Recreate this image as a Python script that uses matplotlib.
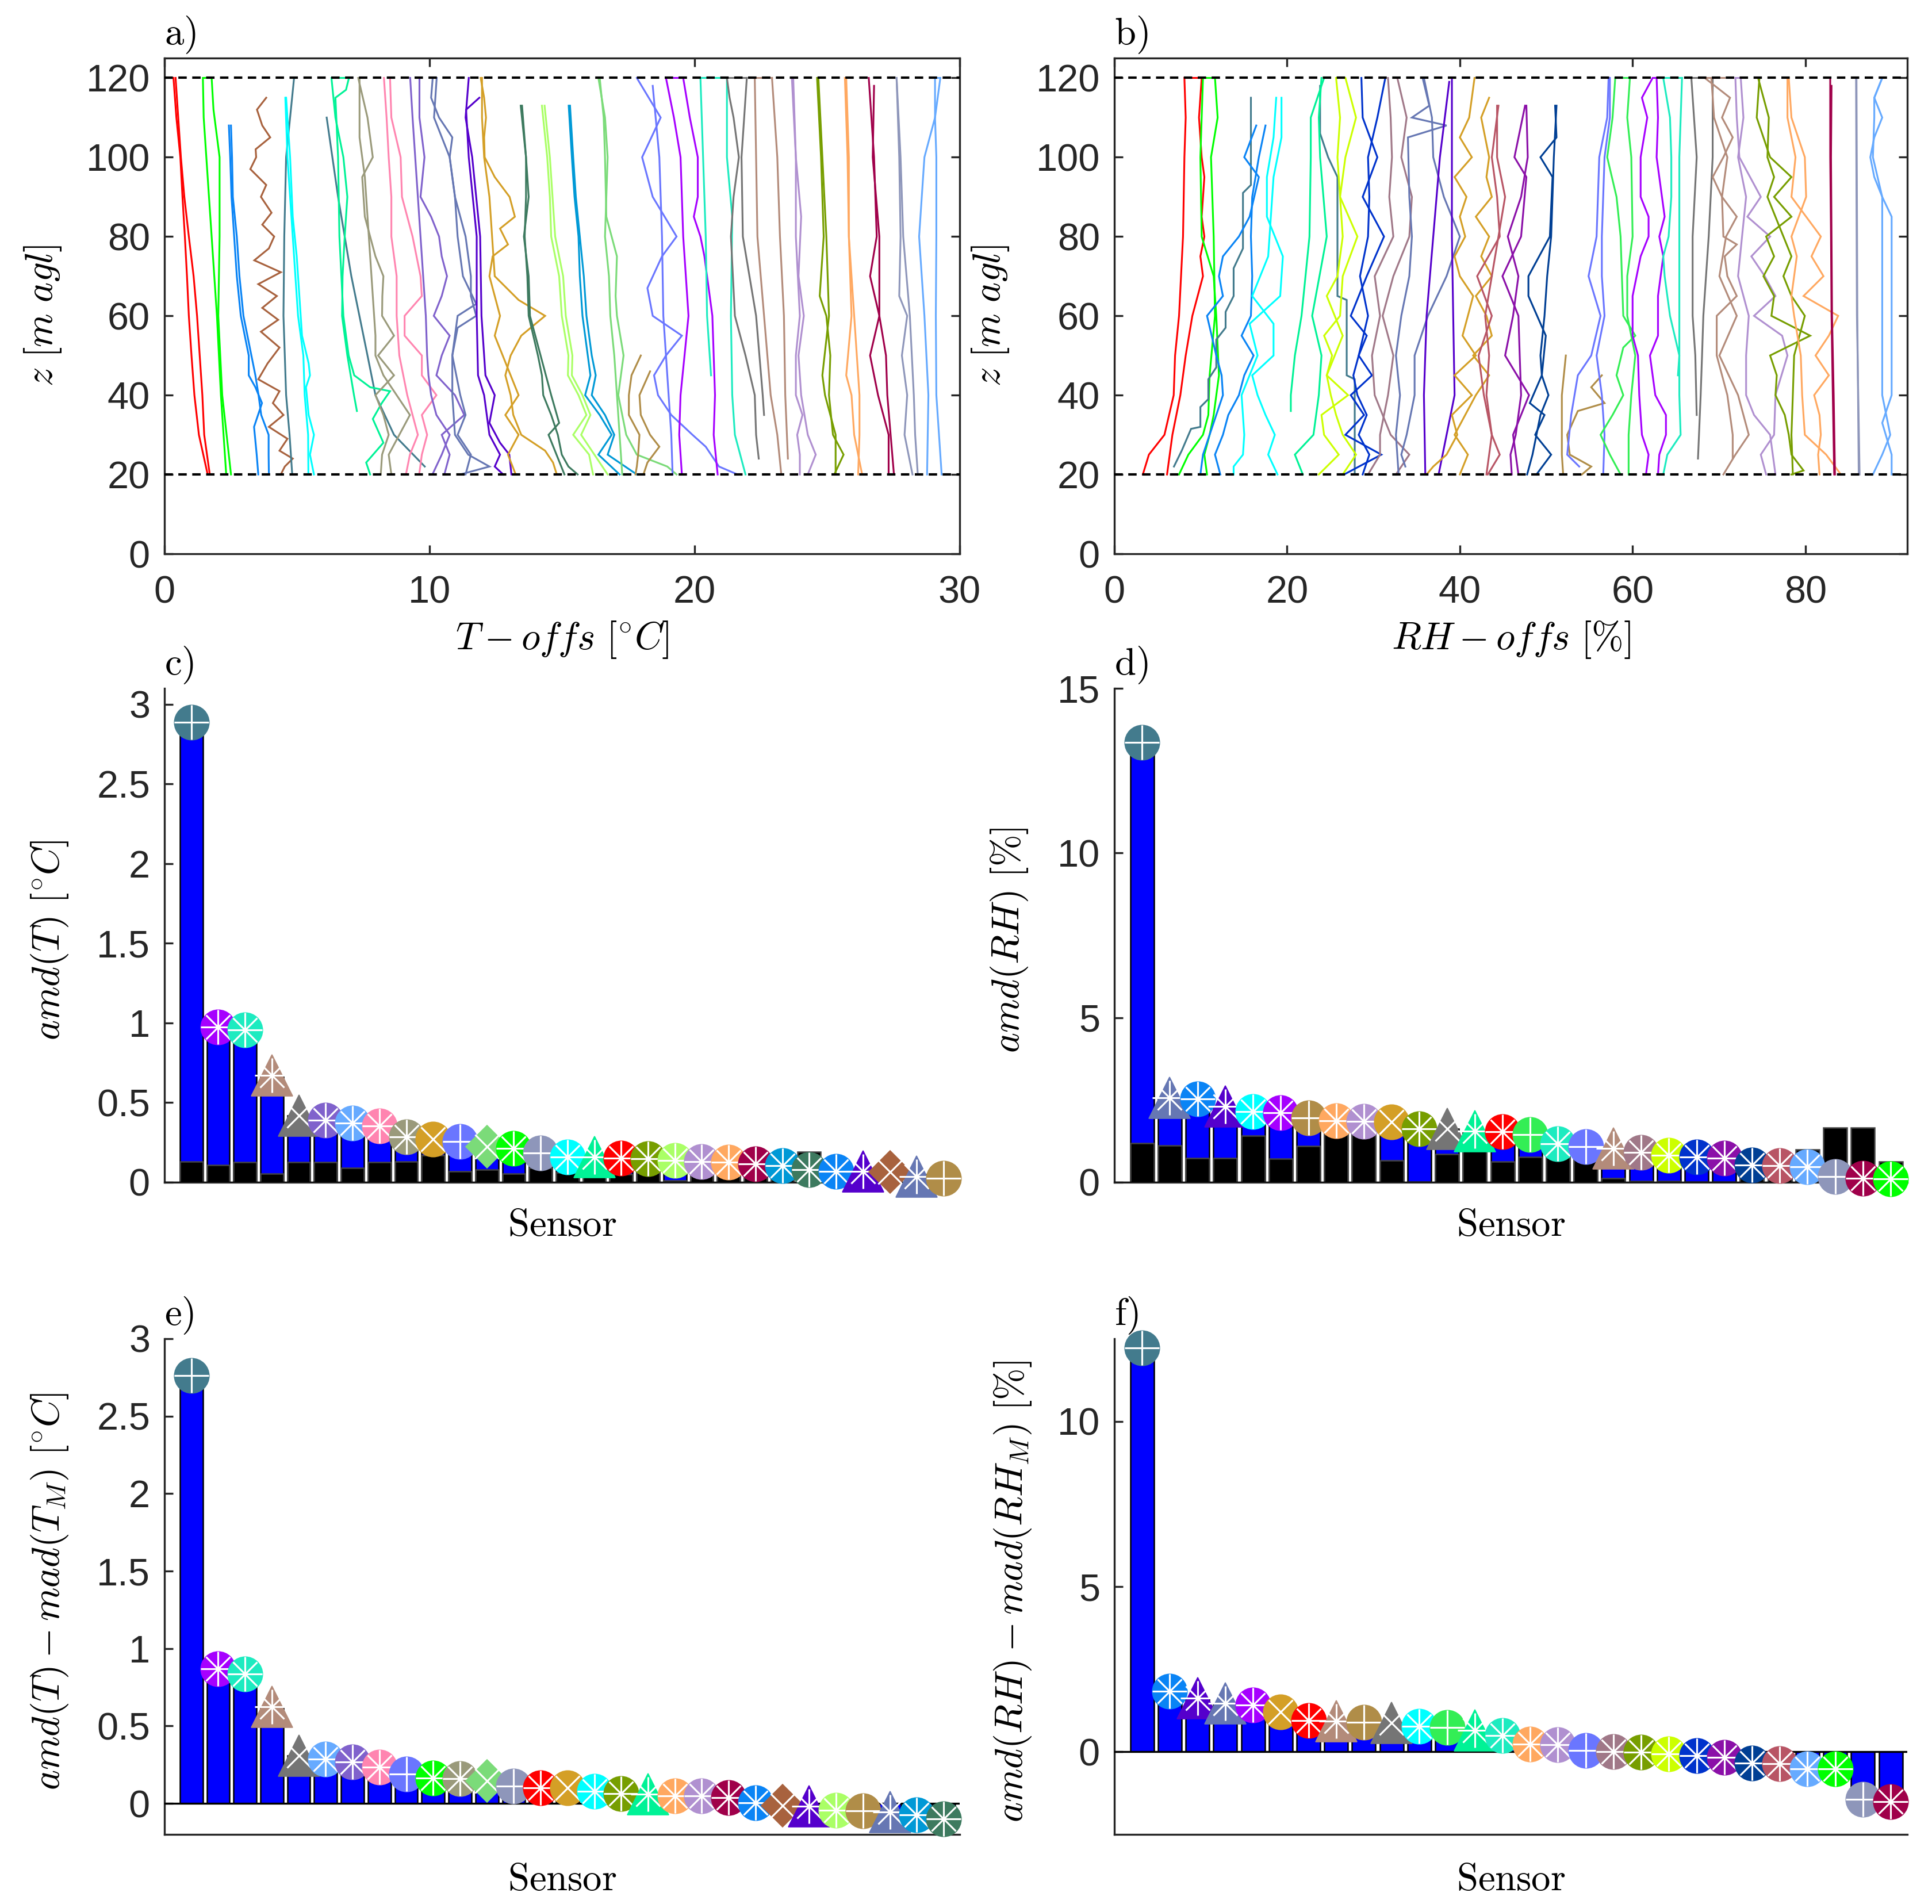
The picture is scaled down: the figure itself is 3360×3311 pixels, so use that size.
import numpy as np
import matplotlib
matplotlib.use('Agg')
import matplotlib.pyplot as plt
from matplotlib.ticker import FuncFormatter

plt.rcParams['font.family'] = ['Liberation Sans', 'DejaVu Sans']
plt.rcParams['mathtext.fontset'] = 'cm'

# ---------------- sensor styles ----------------
COL = {
    'teal': '#437B8D', 'violet': '#A600FF', 'aqua': '#1DEBC0', 'rosy': '#B38B7A',
    'gray': '#757575', 'mpurple': '#8062CC', 'lblue': '#66AAFF', 'pink': '#FF85B0',
    'grayolive': '#9A9A7B', 'goldenrod': '#D49F26', 'cornflower': '#6A76FF',
    'lgreen': '#7BDB79', 'green': '#00FF00', 'grayblue': '#8E96BA', 'cyan': '#00FFFF',
    'spring': '#00F296', 'red': '#FF0000', 'olive': '#779E00', 'lime': '#AAFF66',
    'lavender': '#B090D0', 'orange': '#FFA860', 'maroon': '#A0004A', 'deepsky': '#0099D6',
    'dkgreen': '#3D7A5F', 'dodger': '#0A84F5', 'indigo': '#5500CC', 'sienna': '#A8623E',
    'slate': '#6677B3', 'goldbrown': '#B08D48', 'green2': '#33EE55', 'mauve': '#A07888',
    'yellow': '#CCFF00', 'medblue': '#0033CC', 'dviolet': '#8B10A8', 'navy': '#003F94',
    'rose': '#B85565',
}
MK = {k: ('o', '*') for k in COL}
MK.update({'rosy': ('^', '*'), 'gray': ('^', 'x'), 'goldenrod': ('o', 'x'),
           'cornflower': ('o', '+'), 'lgreen': ('D', 'x'), 'grayblue': ('o', '+'),
           'spring': ('^', '*'), 'indigo': ('^', '*'), 'sienna': ('D', 'x'),
           'slate': ('^', '*'), 'goldbrown': ('o', '+'), 'teal': ('o', '+'),
           'green2': ('o', '+')})

# ---------------- panel c / d / e / f data ----------------
c_order = ['teal', 'violet', 'aqua', 'rosy', 'gray', 'mpurple', 'lblue', 'pink', 'grayolive',
           'goldenrod', 'cornflower', 'lgreen', 'green', 'grayblue', 'cyan', 'spring', 'red',
           'olive', 'lime', 'lavender', 'orange', 'maroon', 'deepsky', 'dkgreen', 'dodger',
           'indigo', 'sienna', 'slate', 'goldbrown']
c_amd = [2.888, 0.974, 0.958, 0.673, 0.42, 0.388, 0.373, 0.355, 0.285, 0.272, 0.257, 0.224,
         0.213, 0.184, 0.158, 0.157, 0.151, 0.147, 0.136, 0.129, 0.125, 0.114, 0.103, 0.081,
         0.07, 0.069, 0.064, 0.037, 0.026]
c_black = [0.129, 0.107, 0.127, 0.053, 0.127, 0.127, 0.092, 0.127, 0.13, 0.17, 0.07, 0.08,
           0.053, 0.09, 0.06, 0.075, 0.05, 0.06, 0.01, 0.05, 0.05, 0.06, 0.06, 0.19, 0.05,
           0.05, 0.05, 0.05, 0.0]

d_order = ['teal', 'slate', 'dodger', 'indigo', 'cyan', 'violet', 'goldbrown', 'orange',
           'lavender', 'goldenrod', 'olive', 'gray', 'spring', 'red', 'green2', 'aqua',
           'cornflower', 'rosy', 'mauve', 'yellow', 'medblue', 'dviolet', 'navy', 'rose',
           'lblue', 'grayblue', 'maroon', 'green']
d_amd = [13.36, 2.57, 2.53, 2.30, 2.14, 2.11, 1.96, 1.87, 1.85, 1.84, 1.63, 1.62, 1.56, 1.54,
         1.45, 1.17, 1.08, 1.03, 0.90, 0.82, 0.76, 0.73, 0.53, 0.50, 0.47, 0.18, 0.13, 0.10]
d_black = [1.19, 1.11, 0.73, 0.73, 1.42, 0.71, 1.10, 1.5, 1.5, 0.66, 0.02, 0.85, 0.98, 0.63,
           0.76, 1.1, 1.0, 0.13, 0.03, 0.03, 0.02, 0.02, 0.15, 0.15, 1.0, 1.66, 1.66, 0.63]

e_order = ['teal', 'violet', 'aqua', 'rosy', 'gray', 'lblue', 'mpurple', 'pink', 'cornflower',
           'green', 'grayolive', 'lgreen', 'grayblue', 'red', 'goldenrod', 'cyan', 'olive',
           'spring', 'orange', 'lavender', 'maroon', 'dodger', 'sienna', 'indigo', 'lime',
           'goldbrown', 'slate', 'deepsky', 'dkgreen']
e_val = [2.763, 0.868, 0.835, 0.625, 0.31, 0.286, 0.268, 0.235, 0.19, 0.162, 0.160, 0.147,
         0.11, 0.10, 0.099, 0.077, 0.065, 0.06, 0.05, 0.049, 0.038, 0.005, -0.014, -0.018,
         -0.045, -0.046, -0.056, -0.074, -0.10]

f_order = ['teal', 'dodger', 'indigo', 'slate', 'violet', 'goldenrod', 'red', 'rosy',
           'goldbrown', 'gray', 'cyan', 'green2', 'spring', 'aqua', 'orange', 'lavender',
           'cornflower', 'mauve', 'olive', 'yellow', 'medblue', 'dviolet', 'navy', 'rose',
           'lblue', 'green', 'grayblue', 'maroon']
f_val = [12.23, 1.84, 1.63, 1.47, 1.42, 1.21, 0.94, 0.93, 0.89, 0.88, 0.78, 0.73, 0.65, 0.49,
         0.23, 0.22, 0.04, 0.01, -0.01, -0.06, -0.12, -0.17, -0.35, -0.36, -0.51, -0.52,
         -1.44, -1.51]

# ---------------- panel a: temperature profiles (z [m], T-offs [C]) ----------------
ta_red = [[(120, 0.34), (110, 0.45), (100, 0.60), (90, 0.68), (80, 0.77), (70, 0.85), (60, 0.92), (50, 1.02), (40, 1.13), (30, 1.30), (20, 1.63)],
          [(120, 0.42), (110, 0.52), (100, 0.62), (90, 0.75), (80, 0.92), (70, 1.10), (60, 1.23), (50, 1.33), (40, 1.43), (30, 1.50), (20, 1.71)]]
ta_green = [[(120, 1.78), (120, 1.45), (110, 1.48), (100, 1.58), (80, 1.78), (60, 1.98), (40, 2.13), (20, 2.33)],
            [(120, 1.78), (112, 1.85), (100, 2.08), (80, 2.08), (60, 2.03), (40, 2.18), (20, 2.51)]]
ta_dodger = [[(108, 2.43), (100, 2.48), (90, 2.53), (80, 2.63), (70, 2.73), (60, 2.88), (50, 3.18), (45, 3.18), (42, 3.43), (38, 3.68), (32, 3.38), (25, 3.48), (20, 3.54)],
             [(108, 2.51), (100, 2.55), (90, 2.58), (80, 2.73), (70, 2.83), (60, 2.98), (50, 3.28), (45, 3.43), (40, 3.55), (35, 3.65), (30, 3.93), (25, 3.93), (20, 3.94)]]
ta_sienna = [[(115, 3.84), (112, 3.49), (108, 3.69), (105, 3.99), (102, 3.44), (100, 3.46), (97, 3.24), (93, 3.84), (90, 3.64), (86, 4.04), (83, 3.69), (80, 4.14), (77, 3.94), (74, 3.39), (71, 4.39), (68, 3.54), (65, 4.24), (62, 3.69), (59, 4.29), (56, 3.64), (52, 4.34), (48, 3.89), (44, 3.54), (41, 4.34), (38, 4.09), (35, 4.49), (32, 3.94), (29, 4.64), (26, 4.34), (24, 4.84), (22, 4.54), (20, 4.39)]]
ta_teal = [[(120, 4.89), (110, 4.74), (100, 4.59), (80, 4.52), (60, 4.49), (40, 4.59), (30, 4.72), (20, 4.82)],
           [(110, 6.12), (90, 6.55), (70, 7.05), (50, 7.66), (40, 7.96), (30, 8.66), (22, 9.82)]]
ta_cyan = [[(115, 4.56), (100, 4.64), (90, 4.74), (80, 4.84), (70, 4.94), (60, 5.04), (50, 5.24), (40, 5.29), (30, 5.42), (20, 5.43)],
           [(115, 4.59), (100, 4.74), (85, 4.84), (75, 4.99), (65, 5.09), (55, 5.19), (48, 5.44), (45, 5.49), (42, 5.34), (35, 5.44), (30, 5.64), (25, 5.49), (20, 5.64)]]
ta_spring = [[(120, 6.96), (120, 6.30), (110, 6.45), (100, 6.75), (90, 6.90), (80, 6.80), (70, 6.72), (60, 6.70), (50, 6.90), (40, 7.15), (36, 7.26)],
             [(120, 6.96), (117, 6.85), (115, 6.45), (100, 6.55), (80, 6.60), (60, 6.75), (50, 6.95), (45, 7.16), (42, 7.76), (41, 8.51), (38, 8.20), (34, 7.86), (28, 8.26), (23, 7.61), (20, 7.76)]]
ta_grayolive = [[(120, 7.31), (110, 7.66), (100, 7.86), (95, 7.46), (85, 7.56), (75, 7.96), (70, 8.26), (65, 8.22), (60, 8.21), (55, 8.66), (50, 8.06), (45, 8.66), (40, 7.96), (35, 8.26), (30, 8.46), (25, 8.21), (20, 8.16)],
                [(120, 7.36), (105, 7.36), (95, 7.56), (85, 7.66), (75, 7.76), (65, 7.86), (55, 7.96), (50, 7.96), (45, 8.26), (40, 8.76), (35, 9.26), (30, 8.86), (25, 8.46), (20, 8.56)]]
ta_pink = [[(120, 8.28), (110, 8.38), (100, 8.46), (90, 8.56), (80, 8.56), (70, 8.76), (60, 8.76), (50, 8.86), (40, 9.16), (30, 9.56), (25, 9.26), (20, 9.11)],
           [(120, 8.51), (110, 8.56), (100, 8.91), (90, 8.96), (80, 9.36), (70, 9.66), (65, 9.71), (60, 9.06), (55, 9.06), (50, 9.71), (45, 9.71), (40, 10.26), (35, 9.71), (30, 9.91), (25, 9.71), (20, 9.61)]]
ta_mpurple = [[(120, 9.27), (110, 9.36), (100, 9.46), (90, 9.56), (80, 9.66), (70, 9.76), (60, 9.86), (50, 9.91), (45, 9.96), (40, 10.06), (35, 10.26), (30, 10.76), (25, 10.46), (20, 10.11)],
              [(120, 9.62), (110, 9.62), (100, 9.81), (90, 9.66), (85, 10.06), (80, 10.36), (75, 10.46), (70, 10.66), (65, 10.46), (60, 10.16), (55, 10.76), (50, 10.46), (45, 10.26), (40, 10.96), (35, 11.31), (30, 10.46), (25, 10.76), (20, 10.56)]]
ta_slate = [[(120, 10.12), (115, 10.06), (110, 10.36), (105, 10.86), (100, 10.76), (90, 10.96), (80, 11.36), (70, 11.56), (65, 11.56), (60, 11.76), (57, 11.06), (50, 10.86), (40, 10.86), (30, 10.96), (25, 11.46), (22, 12.26), (20, 11.16)],
            [(120, 10.27), (110, 10.17), (100, 10.76), (90, 10.96), (80, 11.06), (70, 11.26), (63, 11.76), (60, 11.06), (50, 10.86), (40, 11.16), (35, 11.36), (30, 11.06), (25, 11.56), (20, 11.36)]]
ta_indigo = [[(120, 11.48), (110, 11.36), (100, 11.61), (80, 11.91), (60, 11.96), (45, 12.11), (40, 12.46), (33, 12.26), (28, 12.66), (25, 13.01), (20, 13.09)],
             [(115, 11.88), (112, 11.38), (100, 11.48), (80, 11.78), (60, 11.78), (45, 11.83), (40, 12.06), (30, 12.26), (25, 12.66), (22, 12.46), (20, 12.78)]]
ta_goldenrod = [[(120, 11.93), (115, 12.06), (110, 12.13), (105, 12.06), (100, 12.08), (95, 12.46), (90, 13.02), (85, 13.22), (82, 12.66), (78, 12.96), (75, 12.38), (70, 12.26), (65, 12.46), (60, 12.66), (55, 12.46), (50, 12.76), (45, 13.06), (40, 13.36), (35, 12.86), (30, 13.36), (25, 12.96), (20, 13.25)],
                [(120, 11.98), (110, 11.98), (100, 12.06), (90, 12.26), (80, 12.36), (70, 12.46), (64, 13.36), (60, 14.36), (55, 13.46), (50, 13.06), (45, 12.86), (40, 13.06), (35, 13.16), (30, 13.46), (26, 14.36), (23, 14.66), (20, 14.80)]]
ta_dkgreen = [[(113, 13.44), (100, 13.64), (90, 13.64), (80, 13.59), (70, 13.69), (60, 13.74), (50, 14.09), (45, 14.24), (40, 14.29), (35, 14.59), (30, 14.84), (25, 14.99), (22, 15.24), (20, 15.59)],
              [(113, 13.49), (100, 13.64), (90, 13.74), (80, 13.56), (70, 13.74), (60, 13.79), (50, 14.19), (45, 14.39), (40, 14.59), (33, 14.89), (30, 14.49), (25, 14.79), (20, 15.09)]]
ta_lime = [[(113, 14.24), (100, 14.44), (90, 14.54), (80, 14.59), (70, 14.89), (60, 14.99), (50, 15.24), (45, 15.22), (40, 15.62), (35, 15.92), (30, 15.42), (25, 16.02), (20, 16.17)],
           [(113, 14.34), (100, 14.54), (90, 14.64), (80, 14.74), (70, 15.04), (60, 15.14), (50, 15.39), (45, 15.37), (40, 15.77), (35, 16.07), (30, 15.72), (25, 16.22), (20, 16.72)]]
ta_deepsky = [[(113, 15.25), (100, 15.37), (90, 15.47), (80, 15.62), (70, 15.67), (60, 15.77), (50, 15.97), (45, 16.07), (40, 15.87), (35, 16.42), (30, 16.87), (25, 16.37), (20, 17.17)],
              [(113, 15.30), (100, 15.42), (90, 15.52), (80, 15.67), (70, 15.82), (60, 15.92), (50, 16.12), (45, 16.27), (40, 16.12), (35, 16.62), (30, 16.97), (25, 16.72), (20, 17.82)]]
ta_lgreen = [[(120, 16.37), (110, 16.62), (100, 16.72), (90, 16.67), (80, 16.62), (70, 16.77), (60, 16.82), (50, 16.97), (40, 17.07), (30, 17.17), (20, 17.27)],
             [(120, 16.42), (110, 16.57), (100, 16.62), (85, 16.67), (75, 17.07), (65, 17.02), (60, 17.07), (50, 17.32), (40, 17.12), (30, 17.42), (25, 17.82), (22, 18.97), (20, 19.32)]]
ta_goldbrown = [[(50, 17.97), (45, 17.62), (40, 17.52), (35, 17.52), (30, 17.92), (25, 17.87), (22, 17.82), (20, 17.77)],
                [(46, 18.32), (40, 17.92), (35, 17.97), (30, 18.32), (27, 18.67), (23, 18.22), (20, 18.07)]]
ta_cornflower = [[(120, 17.82), (110, 18.72), (100, 18.02), (90, 18.42), (80, 19.32), (75, 18.77), (67, 18.22), (60, 18.42), (55, 19.52), (50, 18.92), (45, 18.47), (40, 18.62), (35, 19.12), (30, 19.92), (27, 20.42), (22, 20.92), (20, 21.62)],
                 [(118, 18.42), (100, 18.67), (80, 18.77), (60, 18.82), (40, 19.02), (30, 19.12), (20, 19.17)]]
ta_violet = [[(120, 18.92), (110, 19.22), (100, 19.47), (80, 19.57), (60, 19.77), (50, 19.62), (40, 19.47), (30, 19.42), (20, 19.52)],
             [(120, 18.92), (120, 19.57), (110, 19.82), (100, 20.12), (90, 20.12), (85, 19.97), (80, 20.22), (75, 20.37), (60, 20.67), (40, 20.77), (30, 20.72), (20, 20.87)]]
ta_aqua = [[(120, 21.22), (120, 20.22), (100, 20.32), (80, 20.42), (60, 20.47), (45, 20.62)],
           [(120, 21.22), (100, 21.22), (85, 21.42), (60, 21.37), (40, 21.42), (30, 21.52), (25, 21.72), (20, 21.92)]]
ta_gray = [[(120, 21.97), (120, 21.22), (115, 21.32), (110, 21.47), (100, 21.67), (90, 21.47), (80, 21.37), (60, 21.52), (50, 21.92), (40, 22.27), (30, 22.32), (24, 22.42)],
           [(120, 21.97), (100, 21.77), (80, 21.82), (60, 22.32), (40, 22.57), (35, 22.62)]]
ta_rosy = [[(120, 22.92), (120, 22.27), (100, 22.32), (80, 22.37), (60, 22.62), (40, 22.87), (30, 23.12), (20, 23.27)],
           [(120, 22.92), (100, 23.12), (80, 23.22), (60, 23.37), (40, 23.42), (24, 23.52)]]
ta_lavender = [[(120, 23.67), (100, 23.82), (80, 23.82), (60, 23.97), (50, 23.82), (40, 23.82), (35, 24.07), (30, 23.87), (25, 23.97), (20, 23.97)],
               [(120, 23.72), (100, 23.82), (85, 24.02), (70, 23.92), (60, 24.12), (50, 23.92), (40, 24.02), (30, 24.27), (25, 24.57), (20, 24.27)]]
ta_olive = [[(120, 24.62), (100, 24.77), (80, 24.87), (65, 24.72), (60, 24.97), (50, 25.12), (40, 25.07), (30, 25.22), (25, 25.62), (20, 25.27)],
            [(120, 24.67), (100, 24.82), (80, 24.97), (60, 25.07), (45, 24.82), (40, 24.92), (30, 25.32), (20, 25.32)]]
ta_orange = [[(120, 25.67), (100, 25.77), (80, 25.82), (60, 25.92), (45, 25.72), (40, 25.92), (30, 26.02), (20, 26.32)],
             [(120, 25.72), (100, 25.82), (80, 25.82), (60, 26.02), (40, 26.22), (30, 26.22), (20, 26.17)]]
ta_maroon = [[(120, 26.57), (100, 26.77), (80, 26.87), (70, 26.62), (60, 26.97), (50, 26.62), (40, 26.92), (30, 27.32), (20, 27.32)],
             [(118, 26.77), (100, 26.72), (80, 26.97), (60, 26.97), (50, 27.22), (40, 27.27), (20, 27.52)]]
ta_grayblue = [[(120, 27.62), (100, 27.72), (80, 27.77), (65, 27.72), (60, 28.02), (50, 27.82), (40, 28.02), (30, 27.92), (20, 28.22)],
               [(120, 27.62), (100, 27.77), (80, 27.87), (60, 28.12), (40, 28.27), (30, 28.32), (20, 28.42)]]
ta_lblue = [[(120, 29.27), (120, 29.07), (110, 29.07), (100, 28.67), (80, 28.47), (60, 28.67), (40, 28.82), (20, 28.77)],
            [(120, 29.27), (110, 29.07), (100, 29.12), (80, 29.12), (60, 29.10), (40, 29.12), (20, 29.32)]]

T_PROFILES = [('red', ta_red), ('green', ta_green), ('dodger', ta_dodger), ('sienna', ta_sienna),
              ('teal', ta_teal), ('cyan', ta_cyan), ('spring', ta_spring), ('grayolive', ta_grayolive),
              ('pink', ta_pink), ('mpurple', ta_mpurple), ('slate', ta_slate), ('indigo', ta_indigo),
              ('goldenrod', ta_goldenrod), ('dkgreen', ta_dkgreen), ('lime', ta_lime),
              ('deepsky', ta_deepsky), ('lgreen', ta_lgreen), ('goldbrown', ta_goldbrown),
              ('cornflower', ta_cornflower), ('violet', ta_violet), ('aqua', ta_aqua),
              ('gray', ta_gray), ('rosy', ta_rosy), ('lavender', ta_lavender), ('olive', ta_olive),
              ('orange', ta_orange), ('maroon', ta_maroon), ('grayblue', ta_grayblue),
              ('lblue', ta_lblue)]

# ---------------- panel b: humidity profiles (z [m], RH-offs [%]) ----------------
rb_red = [[(120, 10.11), (120, 8.11), (110, 8.26), (100, 8.11), (80, 7.95), (60, 7.49), (50, 7.03), (40, 6.87), (30, 5.8), (25, 4.0), (20, 3.3)],
          [(120, 10.11), (110, 9.80), (100, 10.11), (95, 10.42), (85, 10.11), (80, 10.42), (75, 9.96), (70, 10.26), (60, 9.03), (50, 8.26), (40, 7.64), (30, 6.72), (25, 6.41), (20, 6.1)]]
rb_green = [[(120, 11.65), (120, 10.26), (100, 9.96), (80, 10.11), (70, 11.5), (60, 11.8), (45, 12.11), (35, 11.5), (30, 11.03), (25, 10.42), (20, 10.73)],
            [(120, 11.65), (110, 11.96), (100, 11.19), (80, 11.5), (60, 11.65), (45, 11.03), (35, 10.88), (30, 10.26), (25, 8.57), (20, 7.49)]]
rb_teal = [[(115, 15.81), (93, 15.81), (91, 14.89), (77, 14.89), (72, 13.81), (65, 13.81), (61, 12.88), (57, 12.88), (54, 11.80), (47, 11.80), (44, 10.88), (39, 10.88), (37, 9.96), (32, 9.96), (31.5, 8.88), (26, 7.8), (22, 6.9)],
           [(118, 23.82), (106, 23.82), (100, 24.75), (95, 25.83), (65, 25.83), (64, 26.9), (45, 26.9), (44, 27.83), (20, 27.83)]]
rb_dodger = [[(108, 16.43), (100, 15.04), (95, 16.73), (85, 15.66), (80, 14.42), (75, 12.57), (70, 12.11), (65, 12.57), (60, 10.73), (50, 11.8), (45, 12.42), (40, 12.57), (30, 11.03), (25, 10.26), (20, 9.96)],
             [(108, 17.5), (100, 16.73), (90, 15.96), (80, 15.81), (70, 15.96), (60, 15.81), (55, 14.73), (50, 16.12), (45, 15.04), (40, 14.42), (35, 13.19), (30, 12.57), (25, 11.65), (20, 12.27)]]
rb_cyan = [[(115, 18.74), (105, 18.43), (95, 17.66), (85, 17.66), (75, 19.51), (65, 19.2), (58, 15.66), (50, 16.58), (40, 14.73), (30, 15.04), (25, 14.89), (22, 13.81), (20, 13.81)],
           [(115, 19.35), (105, 19.35), (95, 18.43), (85, 18.12), (75, 17.81), (65, 15.96), (58, 18.43), (50, 18.43), (45, 15.96), (40, 16.58), (35, 17.5), (30, 18.58), (25, 17.81), (20, 18.89)]]
rb_spring = [[(120, 24.28), (110, 22.74), (100, 22.74), (80, 22.59), (60, 21.67), (50, 20.9), (40, 20.43), (36, 20.43)],
             [(120, 23.98), (110, 23.67), (100, 23.82), (80, 24.59), (60, 22.9), (50, 23.98), (40, 23.67), (30, 23.05), (25, 20.9), (20, 21.82)]]
rb_yellow = [[(120, 25.67), (110, 26.13), (100, 25.83), (90, 26.13), (80, 28.14), (70, 26.44), (60, 26.13), (55, 24.28), (50, 25.21), (45, 24.59), (40, 27.06), (35, 23.98), (30, 24.28), (25, 25.98), (20, 23.67)],
             [(120, 26.75), (110, 27.98), (100, 26.75), (90, 26.13), (80, 26.44), (70, 25.83), (65, 24.59), (55, 26.44), (50, 25.52), (45, 24.59), (40, 25.06), (35, 25.67), (30, 26.44), (25, 27.98), (20, 26.44)]]
rb_medblue = [[(120, 28.6), (110, 28.75), (100, 30.45), (90, 28.75), (80, 31.22), (70, 29.22), (60, 27.37), (55, 29.22), (50, 28.29), (45, 29.83), (40, 27.37), (35, 28.91), (30, 26.75), (25, 30.91), (20, 26.6)],
              [(120, 31.37), (110, 30.45), (100, 29.37), (90, 29.52), (80, 29.37), (70, 28.44), (60, 29.37), (50, 28.29), (45, 27.67), (40, 28.14), (35, 29.22), (30, 28.29), (25, 29.52), (20, 28.75)]]
rb_mauve = [[(120, 31.68), (110, 31.99), (100, 32.14), (90, 31.83), (80, 32.3), (70, 30.14), (60, 30.76), (50, 29.83), (40, 30.14), (30, 31.99), (25, 34.15), (20, 32.6)],
            [(120, 32.76), (110, 33.84), (100, 33.22), (90, 34.45), (80, 34.15), (70, 32.3), (60, 31.06), (50, 32.3), (40, 31.68), (30, 30.76), (25, 30.76), (20, 29.37)]]
rb_slate = [[(120, 35.69), (113, 36.46), (110, 34.45), (108, 38.46), (105, 33.99), (90, 34.15), (80, 34.45), (70, 34.15), (60, 33.22), (50, 32.6), (40, 33.07), (30, 32.6), (20, 32.91)],
            [(120, 35.84), (110, 36.77), (100, 36.92), (90, 38.15), (80, 40.0), (70, 38.46), (60, 36.3), (50, 34.76), (40, 34.76), (30, 33.84), (25, 33.22), (22, 33.69)]]
rb_indigo = [[(120, 39.08), (100, 39.08), (80, 39.08), (60, 39.23), (40, 39.39), (20, 37.54)],
             [(119, 38.77), (100, 37.69), (80, 36.92), (60, 36.15), (40, 35.84), (20, 36.0)]]
rb_goldenrod = [[(120, 41.7), (110, 41.08), (105, 40.0), (100, 41.39), (95, 39.39), (90, 40.77), (85, 40.0), (80, 40.62), (75, 39.39), (70, 40.0), (65, 41.54), (60, 40.93), (55, 40.31), (50, 41.85), (45, 39.39), (40, 41.39), (35, 39.08), (30, 39.7), (25, 38.46), (22, 36.92), (20, 36.15)],
                [(115, 43.39), (110, 42.47), (100, 43.39), (95, 43.08), (90, 43.7), (85, 41.85), (80, 43.39), (75, 42.47), (70, 43.7), (65, 41.85), (60, 43.08), (55, 43.7), (50, 41.54), (45, 43.39), (40, 41.85), (35, 40.62), (30, 39.39), (25, 40.93), (20, 40.0)]]
rb_rose = [[(113, 44.31), (100, 44.31), (90, 45.24), (80, 44.47), (70, 43.7), (60, 42.93), (50, 43.39), (40, 43.08), (30, 43.7), (25, 44.62), (20, 43.24)],
           [(113, 44.47), (100, 43.7), (90, 44.31), (80, 44.62), (70, 42.0), (60, 43.7), (50, 42.17), (40, 42.78), (30, 43.7), (20, 43.08)]]
rb_dviolet = [[(113, 47.55), (100, 46.32), (95, 47.7), (80, 47.09), (70, 44.93), (60, 46.78), (50, 46.93), (40, 47.09), (30, 46.47), (25, 45.86), (20, 46.01)],
              [(113, 47.7), (100, 47.86), (90, 47.09), (80, 45.55), (70, 46.78), (60, 46.16), (50, 45.24), (40, 48.01), (30, 46.16), (20, 46.78)]]
rb_navy = [[(113, 51.03), (105, 51.19), (100, 49.33), (95, 50.73), (80, 50.42), (70, 47.94), (65, 47.94), (55, 49.95), (45, 49.49), (38, 48.1), (35, 49.8), (30, 48.72), (25, 50.57), (20, 48.87)],
           [(113, 51.19), (100, 50.88), (80, 50.57), (70, 50.11), (60, 49.8), (50, 49.33), (45, 49.49), (40, 50.26), (35, 49.33), (30, 48.87), (25, 48.41), (20, 47.79)]]
rb_goldbrown = [[(50, 52.27), (40, 51.81), (30, 51.81), (25, 51.81), (20, 51.96)],
                [(45, 56.44), (42, 55.21), (38, 56.75), (36, 53.66), (30, 52.43), (25, 52.73), (22, 55.21), (20, 54.13)]]
rb_cornflower = [[(120, 57.22), (110, 57.06), (100, 56.14), (80, 55.83), (70, 54.9), (60, 56.29), (50, 55.21), (45, 53.66), (35, 52.89), (25, 52.43), (22, 53.82)],
                 [(120, 57.37), (110, 57.37), (100, 56.75), (80, 56.44), (70, 56.44), (60, 56.75), (50, 55.83), (40, 56.44), (30, 56.75), (20, 56.6)]]
rb_green2 = [[(120, 59.69), (120, 57.99), (110, 57.68), (100, 57.06), (90, 58.14), (80, 58.61), (70, 58.76), (60, 58.92), (55, 60.31), (52, 58.92), (45, 58.14), (40, 58.92), (35, 57.68), (30, 56.29), (25, 57.37), (20, 58.61)],
             [(120, 59.69), (110, 59.38), (100, 59.85), (80, 60.0), (70, 59.38), (60, 59.38), (50, 60.31), (40, 59.85), (30, 59.54), (20, 59.54)]]
rb_violet = [[(120, 62.78), (120, 62.32), (115, 61.08), (110, 61.7), (100, 60.93), (90, 60.93), (85, 61.85), (80, 61.85), (75, 60.93), (65, 60.0), (55, 60.0), (50, 60.62), (40, 60.77), (30, 61.08), (25, 61.85), (20, 61.55)],
             [(120, 62.78), (110, 62.94), (100, 62.78), (85, 63.71), (80, 63.09), (75, 63.55), (65, 62.94), (55, 62.94), (50, 62.01), (40, 62.63), (35, 63.86), (30, 63.86), (25, 63.09), (20, 62.94)]]
rb_aqua = [[(120, 65.72), (120, 63.55), (110, 64.33), (100, 64.48), (90, 64.48), (80, 64.17), (75, 63.55), (70, 63.71), (60, 64.33), (50, 65.41), (45, 65.25)],
           [(120, 65.72), (100, 65.41), (80, 65.41), (60, 65.41), (40, 65.41), (30, 65.56), (25, 64.02), (20, 63.55)]]
rb_gray = [[(120, 69.27), (120, 66.8), (100, 67.42), (80, 66.95), (60, 66.95), (50, 67.26), (35, 67.42)],
           [(120, 69.27), (100, 69.27), (80, 68.81), (60, 68.19), (50, 68.04), (40, 67.88), (24, 67.57)]]
rb_rosy = [[(120, 70.66), (120, 68.35), (115, 71.28), (110, 70.35), (105, 71.59), (100, 70.51), (95, 69.27), (90, 70.35), (80, 70.51), (78, 72.06), (75, 70.66), (70, 70.97), (65, 72.06), (60, 69.74), (50, 69.74), (40, 70.97), (30, 71.59), (24, 71.59)],
           [(120, 69.12), (110, 69.43), (100, 70.97), (90, 70.35), (85, 72.06), (80, 70.82), (70, 70.05), (60, 72.06), (50, 70.05), (40, 72.21), (30, 73.45), (25, 71.9), (20, 70.51)]]
rb_lavender = [[(120, 72.52), (120, 71.9), (110, 72.06), (100, 72.36), (90, 74.84), (85, 73.29), (80, 75.92), (75, 73.75), (70, 75.3), (65, 76.54), (60, 74.06), (55, 77.31), (50, 77.93), (40, 76.54), (30, 76.38), (25, 74.84), (20, 75.46)],
               [(120, 72.52), (110, 72.83), (100, 72.21), (90, 73.14), (80, 72.67), (70, 72.21), (60, 73.45), (50, 73.14), (40, 73.14), (35, 74.06), (30, 75.92), (25, 76.23), (20, 76.54)]]
rb_olive = [[(120, 74.68), (110, 74.37), (100, 75.92), (95, 78.39), (90, 76.38), (85, 78.39), (80, 75.46), (75, 76.38), (70, 75.15), (65, 76.38), (60, 76.07), (55, 80.56), (50, 75.92), (45, 76.69), (40, 76.54), (35, 77.62), (30, 78.08), (25, 78.39), (21, 79.79), (20, 78.39)],
            [(120, 74.53), (110, 75.77), (100, 75.61), (95, 76.38), (90, 75.61), (80, 77.46), (75, 78.39), (70, 77.46), (65, 78.39), (60, 79.94), (50, 78.7), (40, 78.55), (30, 78.39), (20, 78.55)]]
rb_orange = [[(120, 77.93), (110, 77.93), (100, 78.86), (90, 78.39), (80, 81.79), (75, 80.71), (70, 82.1), (65, 79.79), (60, 83.8), (55, 82.72), (50, 81.18), (45, 82.72), (40, 81.02), (35, 81.64), (30, 81.79), (25, 81.48), (20, 81.64)],
             [(120, 78.08), (110, 78.39), (100, 79.94), (90, 80.09), (80, 78.39), (75, 79.01), (70, 78.7), (65, 78.39), (60, 78.7), (50, 79.47), (40, 79.63), (30, 79.94), (25, 82.41), (20, 84.11)]]
rb_maroon = [[(120, 82.88), (100, 82.88), (80, 82.97), (60, 83.03), (40, 83.18), (20, 83.34)],
             [(118, 83.03), (100, 82.97), (80, 83.03), (60, 83.09), (40, 83.28), (20, 83.43)]]
rb_grayblue = [[(120, 85.87), (60, 85.97), (20, 86.28)],
               [(120, 85.92), (60, 86.02), (20, 86.18)]]
rb_lblue = [[(120, 88.9), (115, 87.98), (110, 88.9), (105, 87.98), (100, 87.52), (95, 87.98), (90, 88.9), (85, 89.99), (60, 89.99), (40, 89.99), (33, 88.9), (25, 89.99), (20, 89.99)],
            [(120, 88.9), (115, 87.98), (110, 87.98), (100, 87.82), (90, 88.9), (85, 88.9), (60, 88.9), (40, 88.9), (30, 89.83), (25, 88.9), (20, 87.82)]]

RH_PROFILES = [('red', rb_red), ('green', rb_green), ('teal', rb_teal), ('dodger', rb_dodger),
               ('cyan', rb_cyan), ('spring', rb_spring), ('yellow', rb_yellow),
               ('medblue', rb_medblue), ('mauve', rb_mauve), ('slate', rb_slate),
               ('indigo', rb_indigo), ('goldenrod', rb_goldenrod), ('rose', rb_rose),
               ('dviolet', rb_dviolet), ('navy', rb_navy), ('goldbrown', rb_goldbrown),
               ('cornflower', rb_cornflower), ('green2', rb_green2), ('violet', rb_violet),
               ('aqua', rb_aqua), ('gray', rb_gray), ('rosy', rb_rosy),
               ('lavender', rb_lavender), ('olive', rb_olive), ('orange', rb_orange),
               ('maroon', rb_maroon), ('grayblue', rb_grayblue), ('lblue', rb_lblue)]

# ---------------- figure ----------------
W, H = 3360, 3311
fig = plt.figure(figsize=(W / 300, H / 300), dpi=300)

AX_COLOR = '#262626'
TICK_FS = 16
LAB_FS = 16


def px_axes(l, t, r, b):
    return fig.add_axes([l / W, 1 - b / H, (r - l) / W, (b - t) / H])


ax_a = px_axes(286, 101, 1669, 963)
ax_b = px_axes(1938, 101, 3317, 963)
ax_c = px_axes(286, 1197, 1669, 2056)
ax_d = px_axes(1938, 1197, 3317, 2056)
ax_e = px_axes(286, 2328, 1669, 3190)
ax_f = px_axes(1938, 2328, 3317, 3190)

fmt = FuncFormatter(lambda v, p: ('%g' % v))


def style(ax, box):
    for s in ax.spines.values():
        s.set_color(AX_COLOR)
        s.set_linewidth(0.8)
    ax.tick_params(direction='in', length=3.5, width=0.8, colors=AX_COLOR,
                   labelsize=TICK_FS, labelcolor=AX_COLOR)
    ax.tick_params(axis='y', pad=6)
    ax.tick_params(axis='x', pad=9)
    if box:
        ax.tick_params(top=True, right=True)
    else:
        ax.spines['top'].set_visible(False)
        ax.spines['right'].set_visible(False)


def panel_label(ax, txt, h_px):
    ax.text(0.0, 1 + 24 / h_px, r'$\mathrm{' + txt + ')}$', transform=ax.transAxes,
            fontsize=LAB_FS, ha='left', va='baseline', color='k')


def profiles(ax, plist):
    for name, traces in plist:
        for tr in traces:
            zz = [p[0] for p in tr]
            xx = [p[1] for p in tr]
            ax.plot(xx, zz, color=COL[name], lw=0.75, solid_joinstyle='miter', zorder=2)
    for zl in (20, 120):
        ax.axhline(zl, color='k', lw=1.0, ls=(0, (3.5, 2.3)), zorder=3)
    ax.set_ylim(0, 125)
    ax.set_yticks([0, 20, 40, 60, 80, 100, 120])


profiles(ax_a, T_PROFILES)
ax_a.set_xlim(0, 30)
ax_a.set_xticks([0, 10, 20, 30])
profiles(ax_b, RH_PROFILES)
ax_b.set_xlim(0, 91.8)
ax_b.set_xticks([0, 20, 40, 60, 80])
for ax in (ax_a, ax_b):
    style(ax, True)

MS_SIZE = {'o': 14.5, '^': 17.5, 'D': 12.5}


def markers(ax, xs, vals, order):
    for i, (x, v, n) in enumerate(zip(xs, vals, order)):
        fm, ov = MK[n]
        ms = MS_SIZE[fm]
        zb = 10 + 3 * i
        ax.plot([x], [v], ls='none', marker=fm, ms=ms, mfc=COL[n], mec=COL[n], mew=0.4,
                zorder=zb, clip_on=False)
        if ov in ('+', '*'):
            ax.plot([x], [v], ls='none', marker='+', ms=14.5, mec='white', mew=0.75,
                    zorder=zb + 1, clip_on=False)
        if ov in ('x', '*'):
            ax.plot([x], [v], ls='none', marker='x', ms=10.3, mec='white', mew=0.75,
                    zorder=zb + 1, clip_on=False)


def bar_panel(ax, order, vals, black, ylim, yticks, ylabel, label_x, label_y):
    n = len(order)
    x = np.arange(1, n + 1)
    ax.bar(x, vals, width=0.85, color='#0000FF', edgecolor='black', linewidth=0.6, zorder=1)
    if black is not None:
        ax.bar(x, black, width=0.85, color='black', edgecolor='#444444', linewidth=0.6, zorder=2)
    ax.axhline(0, color='k', lw=0.8, zorder=3)
    markers(ax, x, vals, order)
    ax.set_xlim(0, n + 0.6)
    ax.set_ylim(*ylim)
    ax.set_yticks(yticks)
    ax.yaxis.set_major_formatter(fmt)
    ax.set_xticks([])
    style(ax, False)
    ax.set_xlabel(r'$\mathrm{Sensor}$', fontsize=LAB_FS, va='center')
    ax.xaxis.set_label_coords(0.5, label_x)
    ax.set_ylabel(ylabel, fontsize=LAB_FS, va='center')
    ax.yaxis.set_label_coords(label_y, 0.49)


bar_panel(ax_c, c_order, c_amd, c_black, (0, 3.1), [0, 0.5, 1, 1.5, 2, 2.5, 3],
          r'$amd(T)\ [^{\circ}C]$', -0.088, -0.1446)
bar_panel(ax_d, d_order, d_amd, d_black, (0, 15), [0, 5, 10, 15],
          r'$amd(RH)\ [\%]$', -0.088, -0.1327)
bar_panel(ax_e, e_order, e_val, None, (-0.2, 3.0), [0, 0.5, 1, 1.5, 2, 2.5, 3],
          r'$amd(T)-mad(T_M)\ [^{\circ}C]$', -0.093, -0.1446)
bar_panel(ax_f, f_order, f_val, None, (-2.5, 12.5), [0, 5, 10],
          r'$amd(RH)-mad(RH_M)\ [\%]$', -0.093, -0.128)

ax_a.set_xlabel(r'$T-offs\ [^{\circ}C]$', fontsize=LAB_FS, va='center')
ax_a.xaxis.set_label_coords(0.5, -0.174)
ax_a.set_ylabel(r'$z\ [m\ agl]$', fontsize=LAB_FS, va='center')
ax_a.yaxis.set_label_coords(-0.1526, 0.48)
ax_b.set_xlabel(r'$RH-offs\ [\%]$', fontsize=LAB_FS, va='center')
ax_b.xaxis.set_label_coords(0.5, -0.174)
ax_b.set_ylabel(r'$z\ [m\ agl]$', fontsize=LAB_FS, va='center')
ax_b.yaxis.set_label_coords(-0.156, 0.48)

for ax, t, h in ((ax_a, 'a', 862), (ax_b, 'b', 862), (ax_c, 'c', 859), (ax_d, 'd', 859),
                 (ax_e, 'e', 862), (ax_f, 'f', 862)):
    panel_label(ax, t, h)

fig.savefig('out.png', dpi=300)
